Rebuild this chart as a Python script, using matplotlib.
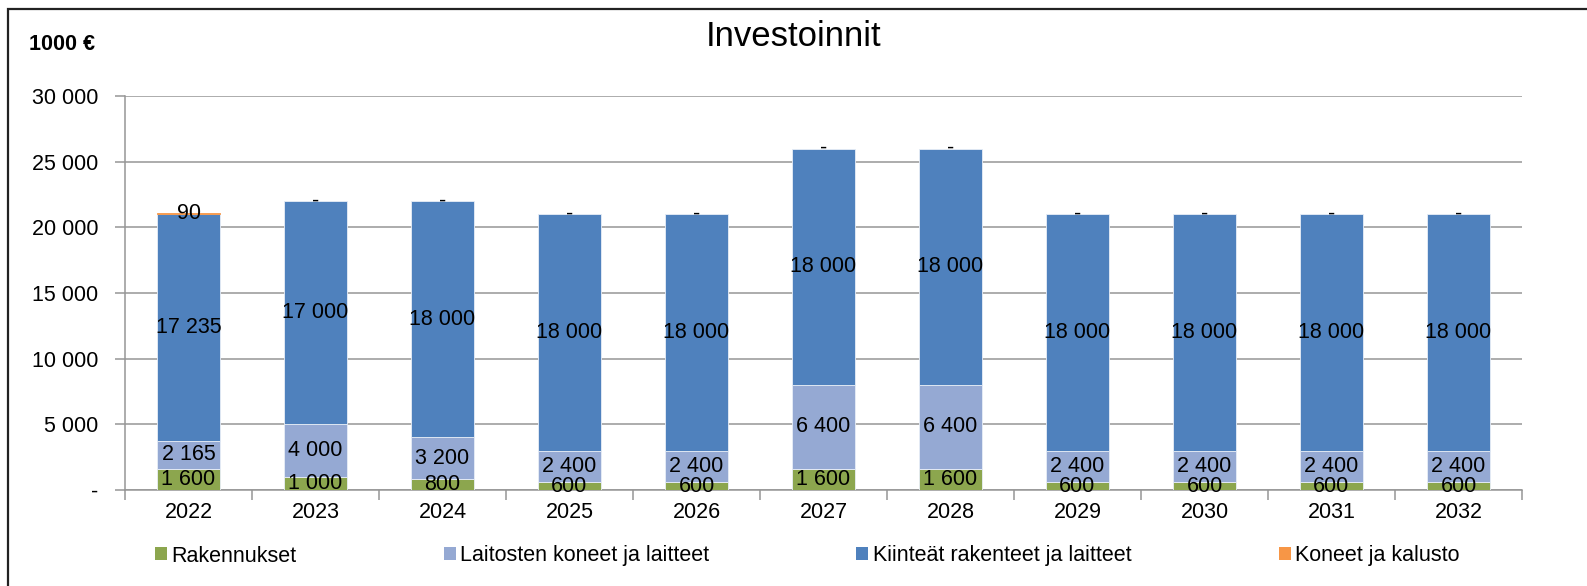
import numpy as np
import matplotlib
matplotlib.use('Agg')
import matplotlib.pyplot as plt
from matplotlib.patches import Patch, Rectangle

plt.rcParams['font.family'] = ['Liberation Sans', 'DejaVu Sans']

years = ['2022', '2023', '2024', '2025', '2026', '2027', '2028', '2029', '2030', '2031', '2032']
rakennukset = [1600, 1000, 800, 600, 600, 1600, 1600, 600, 600, 600, 600]
laitosten = [2165, 4000, 3200, 2400, 2400, 6400, 6400, 2400, 2400, 2400, 2400]
kiinteat = [17235, 17000, 18000, 18000, 18000, 18000, 18000, 18000, 18000, 18000, 18000]
koneet = [90, 0, 0, 0, 0, 0, 0, 0, 0, 0, 0]

series_names = ['Rakennukset', 'Laitosten koneet ja laitteet',
                'Kiinteät rakenteet ja laitteet', 'Koneet ja kalusto']
colors = ['#8CA64E', '#95A9D3', '#4F81BD', '#F79646']

FS = 15.5


def fmt(v):
    if v == 0:
        return '-'
    return '{:,}'.format(int(v)).replace(',', ' ')


W, H = 1587, 586
fig = plt.figure(figsize=(W / 100, H / 100), dpi=100)
ax = fig.add_axes([125 / W, 1 - 490 / H, (1522 - 125) / W, (490 - 96) / H])

x = np.arange(len(years))
bottom = np.zeros(len(years))
for name, vals, col in zip(series_names, [rakennukset, laitosten, kiinteat, koneet], colors):
    vals = np.array(vals, dtype=float)
    edge = col if name == 'Koneet ja kalusto' else '#E8EEF7'
    lws = [0.6 if v > 0 else 0 for v in vals]
    bars = ax.bar(x, vals, width=0.5, bottom=bottom, color=col, edgecolor=edge,
                  linewidth=lws, label=name, zorder=3)
    ax.bar_label(bars, labels=[fmt(v) for v in vals], label_type='center',
                 fontsize=FS, color='black', zorder=4)
    bottom += vals

ax.set_xlim(-0.5, len(years) - 0.5)
ax.set_ylim(0, 30000)
yt = np.arange(0, 30001, 5000)
ax.set_yticks(yt)
ax.set_yticklabels([fmt(v) for v in yt], fontsize=FS)
ax.yaxis.grid(True, color='#969696', linewidth=1.1, zorder=0)
ax.set_axisbelow(True)

# category boundary ticks, labels in the middle
ax.set_xticks(np.arange(-0.5, len(years), 1.0))
ax.set_xticklabels([])
ax.set_xticks(x, minor=True)
ax.set_xticklabels(years, minor=True, fontsize=FS)
ax.tick_params(axis='x', which='major', length=7, width=1.1, color='#969696', direction='out')
ax.tick_params(axis='x', which='minor', length=0, pad=9)
ax.tick_params(axis='y', length=7, width=1.1, color='#969696', pad=12)

for s in ['top', 'right']:
    ax.spines[s].set_visible(False)
for s in ['left', 'bottom']:
    ax.spines[s].set_color('#969696')
    ax.spines[s].set_linewidth(1.1)

fig.text(794 / W, 1 - 37 / H, 'Investoinnit', fontsize=25, ha='center', va='center')
fig.text(29 / W, 1 - 45 / H, '1000 €', fontsize=FS, fontweight='bold', ha='left', va='center')

handles = [Patch(facecolor=c, edgecolor='none') for c in colors]
fig.legend(handles, series_names, loc='center left', bbox_to_anchor=(155 / W, 1 - 556 / H),
           ncol=4, frameon=False, fontsize=FS, handlelength=0.55, handleheight=0.55,
           handletextpad=0.2, columnspacing=6.85, borderpad=0, borderaxespad=0)

fig.patches.append(Rectangle((8 / W, -0.1), 1.2, 1.1 - 9 / H, transform=fig.transFigure,
                             fill=False, edgecolor='#222222', linewidth=1.6))

fig.savefig('out.png', dpi=100)
